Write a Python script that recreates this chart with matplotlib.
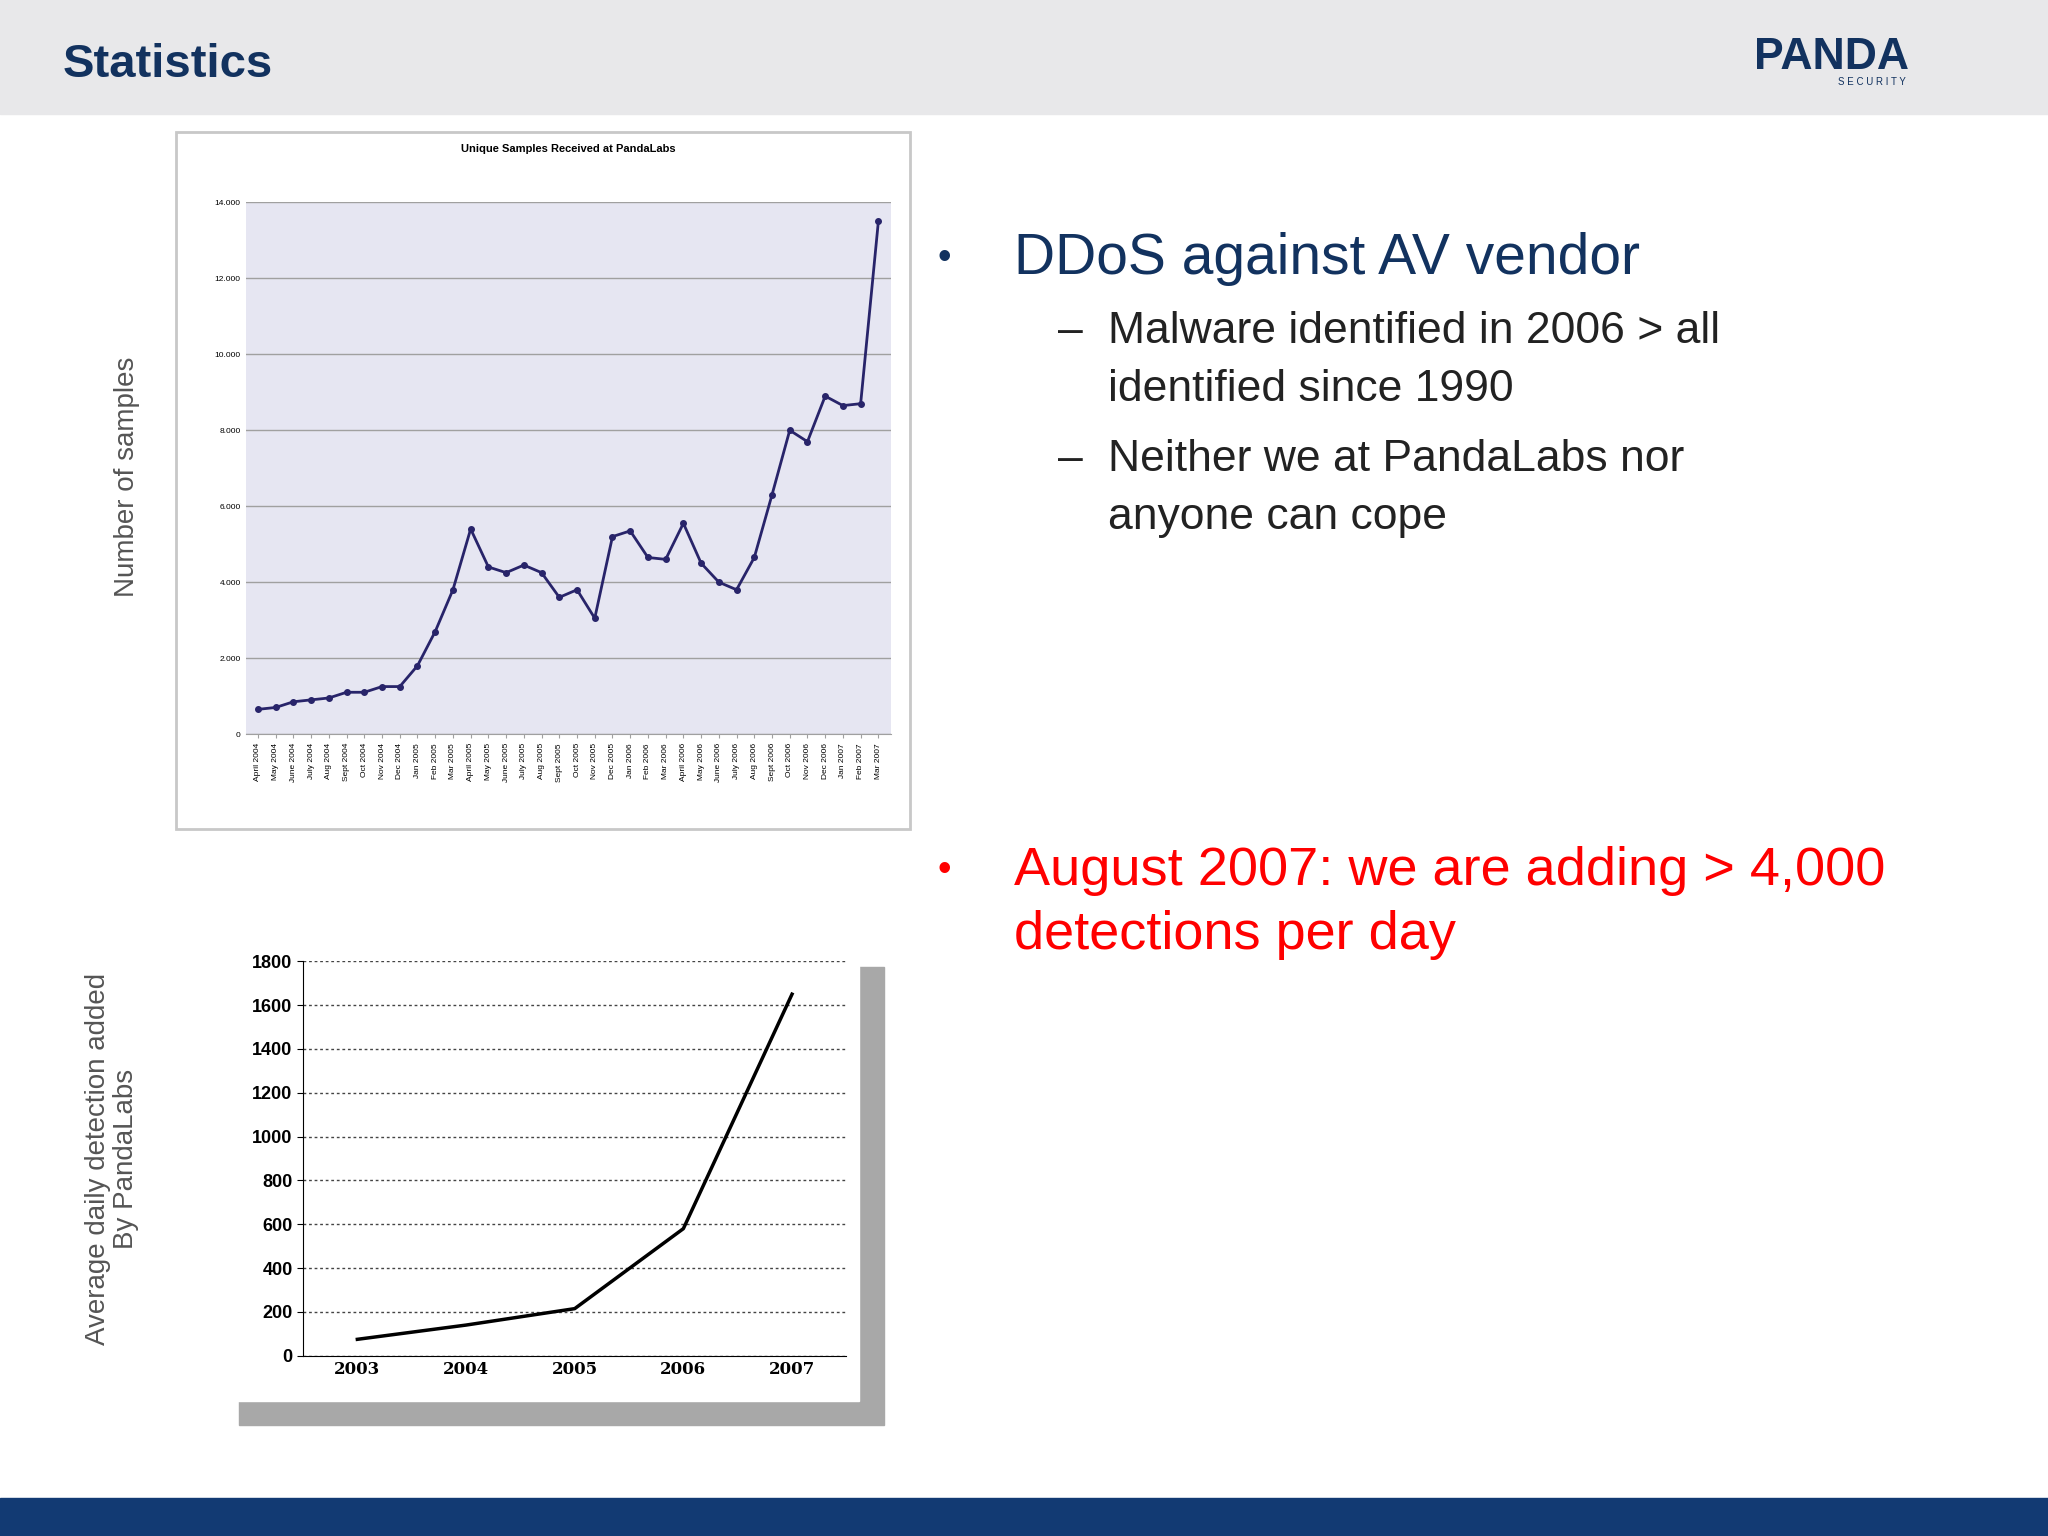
import matplotlib
matplotlib.use("Agg")
import matplotlib.pyplot as plt
from matplotlib.patches import Rectangle

plt.rcParams['font.family'] = ['Liberation Sans', 'DejaVu Sans']

months = ["April 2004","May 2004","June 2004","July 2004","Aug 2004","Sept 2004","Oct 2004","Nov 2004","Dec 2004",
          "Jan 2005","Feb 2005","Mar 2005","April 2005","May 2005","June 2005","July 2005","Aug 2005","Sept 2005",
          "Oct 2005","Nov 2005","Dec 2005","Jan 2006","Feb 2006","Mar 2006","April 2006","May 2006","June 2006",
          "July 2006","Aug 2006","Sept 2006","Oct 2006","Nov 2006","Dec 2006","Jan 2007","Feb 2007","Mar 2007"]
samples = [650,700,850,900,950,1100,1100,1250,1250,1800,2700,3800,5400,4400,4250,4450,4250,3600,
           3800,3050,5200,5350,4650,4600,5550,4500,4000,3800,4650,6300,8000,7700,8900,8650,8700,13500]
sample_ticks = [0,2000,4000,6000,8000,10000,12000,14000]
sample_tick_labels = ["0","2.000","4.000","6.000","8.000","10.000","12.000","14.000"]

years = ["2003","2004","2005","2006","2007"]
daily = [75,140,215,580,1650]
daily_ticks = [0,200,400,600,800,1000,1200,1400,1600,1800]

W, H = 1568, 1176
def ax_rect(x0, y0, x1, y1):
    return [x0/W, 1-y1/H, (x1-x0)/W, (y1-y0)/H]

fig = plt.figure(figsize=(20.48, 15.36), dpi=100)
fig.patch.set_facecolor("white")
fig.patches.append(Rectangle((0, 1-87/H), 1, 87/H, transform=fig.transFigure, color="#e8e8ea", zorder=0))
fig.patches.append(Rectangle((0, 0), 1, 29/H, transform=fig.transFigure, color="#123a73", zorder=0))
fig.text(48/W, 1-50/H, "Statistics", fontsize=34, fontweight="bold", color="#12325f", va="center")
fig.text(1402/W, 1-44/H, "PANDA", fontsize=32, fontweight="bold", color="#12325f", va="center", ha="center")
fig.text(1433/W, 1-63/H, "S E C U R I T Y", fontsize=7, color="#12325f", va="center", ha="center")

# top chart frame
fig.patches.append(Rectangle((135/W, 1-635/H), 562/W, 534/H, transform=fig.transFigure,
                             facecolor="white", edgecolor="#c8c8c8", lw=2, zorder=0))
ax1 = fig.add_axes(ax_rect(188, 155, 682, 562))
ax1.set_zorder(3)
ax1.set_facecolor("#e6e6f2")
x = range(len(months))
ax1.plot(x, samples, color="#28246a", lw=2, marker="o", ms=4)
ax1.set_ylim(0, 14000)
ax1.set_xlim(-0.7, len(months)-0.3)
ax1.set_yticks(sample_ticks)
ax1.set_yticklabels(sample_tick_labels, fontsize=6)
ax1.set_xticks(list(x))
ax1.set_xticklabels(months, rotation=90, fontsize=6)
ax1.grid(axis="y", color="#a0a0a0", lw=1)
ax1.set_axisbelow(True)
for s in ["top", "right", "left"]:
    ax1.spines[s].set_visible(False)
ax1.spines["bottom"].set_color("#a0a0a0")
ax1.tick_params(axis="y", length=0)
ax1.tick_params(axis="x", length=3, color="#a0a0a0")
ax1.set_title("Unique Samples Received at PandaLabs", fontsize=8, fontweight="bold", pad=36)
fig.text(97/W, 1-365/H, "Number of samples", rotation=90, fontsize=20, color="#555555", ha="center", va="center")

# bottom chart
fig.patches.append(Rectangle((183/W, 1-1091/H), 494/W, 351/H, transform=fig.transFigure, color="#a8a8a8", zorder=0))
fig.patches.append(Rectangle((170/W, 1-1073/H), 488/W, 350/H, transform=fig.transFigure, color="white", zorder=0.5))
ax2 = fig.add_axes(ax_rect(232, 736, 648, 1038))
ax2.set_zorder(3)
ax2.set_facecolor("none")
ax2.plot(range(len(years)), daily, color="black", lw=2.5)
ax2.set_ylim(0, 1800)
ax2.set_xlim(-0.5, len(years)-0.5)
ax2.set_yticks(daily_ticks)
ax2.set_yticklabels([str(v) for v in daily_ticks], fontsize=13, fontweight="bold")
ax2.set_xticks(range(len(years)))
ax2.set_xticklabels(years, fontsize=12, fontweight="bold", family="serif")
ax2.grid(axis="y", color="#444444", ls=(0, (2, 2)), lw=1)
for s in ["top", "right"]:
    ax2.spines[s].set_visible(False)
ax2.tick_params(axis="x", length=0)
ax2.tick_params(axis="y", length=4)
fig.text(86/W, 1-887/H, "Average daily detection added\nBy PandaLabs", rotation=90, fontsize=20,
         color="#555555", ha="center", va="center", linespacing=1.1)

# bullets
blue = "#12325f"
dark = "#222222"
def line(xp, yp, s, size, color):
    fig.text(xp/W, 1-yp/H, s, fontsize=size, color=color, va="center")

line(718, 198, "•", 28, blue)
line(776, 198, "DDoS against AV vendor", 41, blue)
line(810, 254, "–", 32, dark)
line(848, 254, "Malware identified in 2006 > all", 32, dark)
line(848, 298, "identified since 1990", 32, dark)
line(810, 352, "–", 32, dark)
line(848, 352, "Neither we at PandaLabs nor", 32, dark)
line(848, 396, "anyone can cope", 32, dark)
line(718, 667, "•", 28, "red")
line(776, 667, "August 2007: we are adding > 4,000", 39, "red")
line(776, 716, "detections per day", 39, "red")

fig.savefig("out.png", dpi=100)
